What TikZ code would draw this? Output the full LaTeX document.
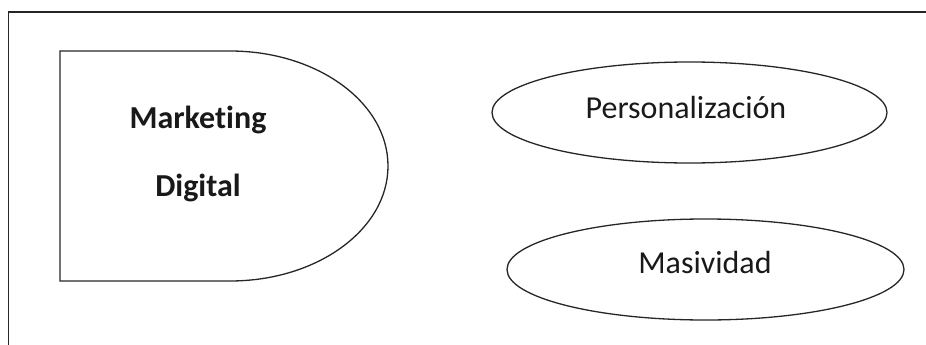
\documentclass[tikz,border=0pt]{standalone}
\usepackage{fontspec}
\setmainfont[RawFeature=-liga]{Carlito}
\usetikzlibrary{shapes.geometric}
\begin{document}
\begin{tikzpicture}[x=1pt,y=-1pt,
  outline/.style={draw=black!85,line width=1.3pt},
  oval/.style={ellipse,outline,inner sep=0pt},
  lbl/.style={font=\fontsize{32}{36}\selectfont,text=black!90,anchor=base}]
\useasboundingbox (0,0) rectangle (926,345);
% outer frame
\coordinate (fa) at (926,12);
\coordinate (fb) at (8.5,12);
\coordinate (fc) at (8.5,345);
\draw[outline] (fa) -- (fb) -- (fc);
% delay shape
\draw[outline] (230,51) -- (60,51) -- (60,281) -- (230,281)
  arc[start angle=90,end angle=-90,x radius=158,y radius=115] -- cycle;
\node[lbl,font=\fontsize{32}{36}\selectfont\bfseries] (mk) at (198,128) {Marketing};
\node[lbl,font=\fontsize{32}{36}\selectfont\bfseries] (dg) at (198,196) {Digital};
% ellipses
\node[oval,minimum width=395,minimum height=101] (p) at (689.5,112.5) {};
\node[oval,minimum width=397,minimum height=101] (m) at (705.5,269.5) {};
\node[lbl] (pt) at (686,118) {Personalización};
\node[lbl] (mt) at (705,273) {Masividad};
\end{tikzpicture}
\end{document}
